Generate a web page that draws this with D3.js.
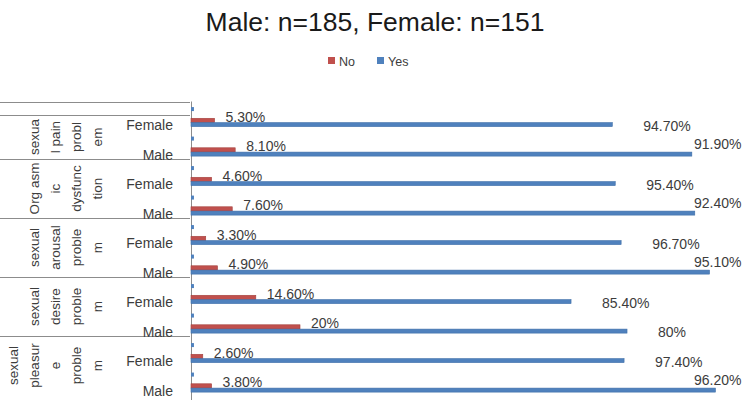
<!DOCTYPE html>
<html><head><meta charset="utf-8">
<script src="https://cdn.jsdelivr.net/npm/d3@7"></script>
<style>body{margin:0;background:#fff;} svg{display:block;font-family:"Liberation Sans",Arial,sans-serif;}</style>
</head><body>
<svg id="chart" width="749" height="400"></svg>
<script>
// ---- data ----
const title = "Male: n=185, Female: n=151";
const seriesNames = ["No", "Yes"];
const groupNames = ["sexual pain problem", "Orgasmic dysfunction", "sexual arousal problem", "sexual desire problem", "sexual pleasure problem"];
const groupLabelLines = [
  ["sexua", "l pain", "probl", "em"],
  ["Org asm", "ic", "dysfunc", "tion"],
  ["sexual", "arousal", "proble", "m"],
  ["sexual", "desire", "proble", "m"],
  ["sexual", "pleasur", "e", "proble", "m"]
];
const sexes = ["Female", "Male"];
// bar lengths (counts), top to bottom
const noCounts  = [8, 15, 7, 14, 5, 9, 22, 37, 4, 7];
const yesCounts = [143, 170, 144, 171, 146, 176, 129, 148, 147, 178];
const markerCounts = [1, 1, 1, 1, 1, 1, 1, 1, 1, 1];
const noLabels  = ["5.30%", "8.10%", "4.60%", "7.60%", "3.30%", "4.90%", "14.60%", "20%", "2.60%", "3.80%"];
const yesLabels = ["94.70%", "91.90%", "95.40%", "92.40%", "96.70%", "95.10%", "85.40%", "80%", "97.40%", "96.20%"];

// ---- rows ----
const rows = [];
groupNames.forEach((g, gi) => sexes.forEach((s, si) => rows.push({group: gi, sex: s})));
rows.forEach((r, i) => { r.i = i; r.no = noCounts[i]; r.yes = yesCounts[i]; r.mk = markerCounts[i]; r.noLab = noLabels[i]; r.yesLab = yesLabels[i]; });

const RED = "#C0504D", BLUE = "#4F81BD", TXT = "#3c3c3c", GRID = "#8c8c8c";
const svg = d3.select("#chart");

const x = d3.scaleLinear().domain([0, 180]).range([191, 721.3]);
const y = d3.scaleBand().domain(d3.range(rows.length)).range([100, 395]).padding(0);
const bw = y.bandwidth();

// title
svg.append("text").attr("x", 375).attr("y", 31).attr("text-anchor", "middle")
  .attr("font-size", 26.5).attr("fill", "#1a1a1a").text(title);

// legend
const legend = svg.append("g");
[[seriesNames[0], RED, 328], [seriesNames[1], BLUE, 377]].forEach(([n, c, lx]) => {
  legend.append("rect").attr("x", lx).attr("y", 57).attr("width", 7).attr("height", 7).attr("fill", c);
  legend.append("text").attr("x", lx + 11).attr("y", 65.5).attr("font-size", 12.5).attr("fill", TXT).text(n);
});

// left category table lines
const tableLines = [y(0) + 1.5, y(0) + 15];
for (let k = 1; k < groupNames.length; k++) tableLines.push(y(2 * k));
svg.append("g").selectAll("line").data(tableLines).join("line")
  .attr("x1", 0).attr("x2", 190).attr("y1", d => Math.round(d) + 0.5).attr("y2", d => Math.round(d) + 0.5)
  .attr("stroke", GRID).attr("stroke-width", 1);

// axis line
svg.append("line").attr("x1", x(0) + 0.5).attr("x2", x(0) + 0.5).attr("y1", y(0) + 1.5).attr("y2", 400)
  .attr("stroke", GRID).attr("stroke-width", 1);

// group labels (rotated, wrapped)
groupLabelLines.forEach((lines, gi) => {
  const top = gi === 0 ? y(0) + 15 : y(2 * gi);
  const bottom = y(2 * gi + 1) + bw;
  const cy = (top + bottom) / 2;
  lines.forEach((ln, li) => {
    const cx = 97 - (lines.length - 1 - li) * 21;
    svg.append("text").attr("transform", `translate(${cx},${cy}) rotate(-90)`)
      .attr("text-anchor", "middle").attr("dominant-baseline", "central")
      .attr("font-size", 13.5).attr("fill", TXT).text(ln);
  });
});

// sex labels
svg.append("g").selectAll("text").data(rows).join("text")
  .attr("x", 173).attr("y", d => y(d.i) + 25.3).attr("text-anchor", "end")
  .attr("dominant-baseline", "central").attr("font-size", 14).attr("fill", TXT)
  .text(d => d.sex);

// bars
const g = svg.append("g");
g.selectAll("rect.mk").data(rows).join("rect").attr("class", "mk")
  .attr("x", x(0)).attr("y", d => y(d.i) + bw * 0.24).attr("height", 4)
  .attr("width", d => x(d.mk) - x(0)).attr("fill", BLUE);
g.selectAll("rect.no").data(rows).join("rect").attr("class", "no")
  .attr("x", x(0)).attr("y", d => y(d.i) + bw * 0.62).attr("height", bw * 0.146)
  .attr("width", d => x(d.no) - x(0)).attr("fill", RED).attr("stroke", "#a3403d").attr("stroke-width", 0.6);
g.selectAll("rect.yes").data(rows).join("rect").attr("class", "yes")
  .attr("x", x(0)).attr("y", d => y(d.i) + bw * 0.766).attr("height", bw * 0.136)
  .attr("width", d => x(d.yes) - x(0)).attr("fill", BLUE).attr("stroke", "#3f6fa8").attr("stroke-width", 0.6);

// data labels
g.selectAll("text.nol").data(rows).join("text").attr("class", "nol")
  .attr("x", d => x(d.no) + 11).attr("y", d => y(d.i) + bw * 0.62 + 3.5)
  .attr("font-size", 14).attr("fill", TXT).text(d => d.noLab);
g.selectAll("text.yesl").data(rows).join("text").attr("class", "yesl")
  .each(function(d) {
    const end = x(d.yes);
    const lx = Math.min(end + 31, 694);
    const barTop = y(d.i) + bw * 0.766, barH = bw * 0.136;
    const cy = lx < end + 3 ? barTop - 8 : barTop + barH / 2 + 1;
    d3.select(this).attr("x", lx).attr("y", cy).attr("dominant-baseline", "central");
  })
  .attr("font-size", 14).attr("fill", TXT).text(d => d.yesLab);
</script>
</body></html>
